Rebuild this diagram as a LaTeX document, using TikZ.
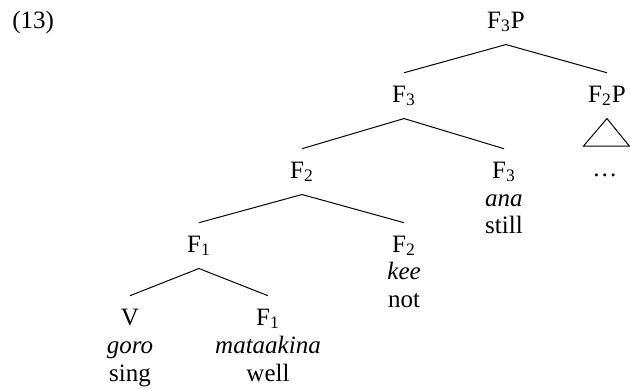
\documentclass[tikz,border=0pt]{standalone}
\usepackage{fontspec}
\setmainfont{Liberation Serif}
\usepackage{tikz}
\usetikzlibrary{positioning}

\begin{document}
\begin{tikzpicture}[
  font=\fontsize{12.5}{15}\selectfont,
  cat/.style={anchor=base,inner xsep=0pt,inner ysep=6pt,text height=8.5pt,text depth=2pt},
  wrd/.style={anchor=base,inner sep=0pt},
  br/.style={line width=0.5pt,black}
]
  \useasboundingbox (0,0) rectangle (11.07,6.82);
  \node[wrd,anchor=base west] (exnum) at (0.21,6.325) {(13)};

  % spine
  \node[cat] (ftp) at (8.89,6.325) {F\textsubscript{3}P};
  \node[cat] (fthree) at (7.10,5.025) {F\textsubscript{3}};
  \node[cat] (ftwop) at (10.665,5.025) {F\textsubscript{2}P};
  \node[cat] (ftwo) at (5.306,3.69) {F\textsubscript{2}};
  \node[cat] (fthreeh) at (8.855,3.69) {F\textsubscript{3}};
  \node[cat] (fone) at (3.496,2.39) {F\textsubscript{1}};
  \node[cat] (ftwoh) at (7.10,2.39) {F\textsubscript{2}};
  \node[cat] (verb) at (2.284,1.107) {V};
  \node[cat] (foneh) at (4.709,1.107) {F\textsubscript{1}};

  % words and glosses
  \node[wrd] (ana) at (8.855,3.20) {\textit{ana}};
  \node[wrd] (still) at (8.855,2.71) {still};
  \node[wrd] (kee) at (7.10,1.90) {\textit{kee}};
  \node[wrd] (nt) at (7.10,1.41) {not};
  \node[wrd] (goro) at (2.284,0.615) {\textit{goro}};
  \node[wrd] (sing) at (2.284,0.123) {sing};
  \node[wrd] (mata) at (4.709,0.615) {\textit{mataakina}};
  \node[wrd] (well) at (4.709,0.123) {well};

  \draw[br] (ftp.south)--(fthree.north);
  \draw[br] (ftp.south)--(ftwop.north);
  \draw[br] (fthree.south)--(ftwo.north);
  \draw[br] (fthree.south)--(fthreeh.north);
  \draw[br] (ftwo.south)--(fone.north);
  \draw[br] (ftwo.south)--(ftwoh.north);
  \draw[br] (fone.south)--(verb.north);
  \draw[br] (fone.south)--(foneh.north);

  % F2P is a triangle
  \coordinate (tl) at (10.252,4.252);
  \coordinate (tr) at (11.06,4.252);
  \draw[br] (ftwop.south)--(tl)--(tr)--cycle;
  \node[wrd] (dots) at (10.63,3.72) {\dots};
\end{tikzpicture}
\end{document}
